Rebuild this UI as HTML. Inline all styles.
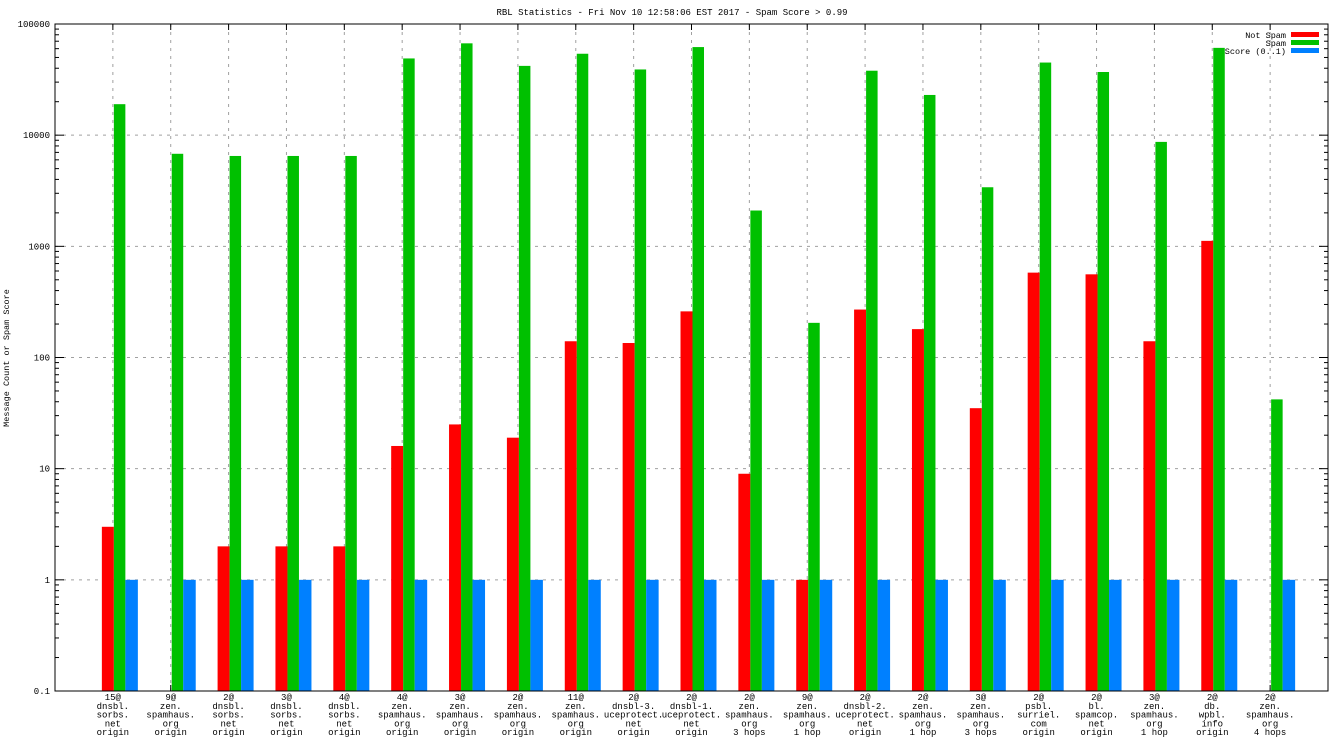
<!DOCTYPE html>
<html><head><meta charset="utf-8"><style>
html,body{margin:0;padding:0;background:#fff;}
svg{display:block;font-family:"Liberation Mono",monospace;}
</style></head><body>
<svg id="chart" width="1344" height="756" xmlns="http://www.w3.org/2000/svg"></svg>
<script>
const categories = [
 ["15@","dnsbl.","sorbs.","net","origin"],
 ["9@","zen.","spamhaus.","org","origin"],
 ["2@","dnsbl.","sorbs.","net","origin"],
 ["3@","dnsbl.","sorbs.","net","origin"],
 ["4@","dnsbl.","sorbs.","net","origin"],
 ["4@","zen.","spamhaus.","org","origin"],
 ["3@","zen.","spamhaus.","org","origin"],
 ["2@","zen.","spamhaus.","org","origin"],
 ["11@","zen.","spamhaus.","org","origin"],
 ["2@","dnsbl-3.","uceprotect.","net","origin"],
 ["2@","dnsbl-1.","uceprotect.","net","origin"],
 ["2@","zen.","spamhaus.","org","3 hops"],
 ["9@","zen.","spamhaus.","org","1 hop"],
 ["2@","dnsbl-2.","uceprotect.","net","origin"],
 ["2@","zen.","spamhaus.","org","1 hop"],
 ["3@","zen.","spamhaus.","org","3 hops"],
 ["2@","psbl.","surriel.","com","origin"],
 ["2@","bl.","spamcop.","net","origin"],
 ["3@","zen.","spamhaus.","org","1 hop"],
 ["2@","db.","wpbl.","info","origin"],
 ["2@","zen.","spamhaus.","org","4 hops"]
];
const notSpam = [3,0,2,2,2,16,25,19,140,135,260,9,1,270,180,35,580,560,140,1120,0];
const spam = [19000,6800,6500,6500,6500,49000,67000,42000,54000,39000,62000,2100,205,38000,23000,3400,45000,37000,8700,61000,42];
const score = [1,1,1,1,1,1,1,1,1,1,1,1,1,1,1,1,1,1,1,1,1];
const yTicks = [0.1,1,10,100,1000,10000,100000];
const yTickLabels = ["0.1","1","10","100","1000","10000","100000"];

const NS="http://www.w3.org/2000/svg";
const svg=document.getElementById('chart');
const L=55,R=1328,T=24,B=691;
const xScale=i=>L+(i+1)*(R-L)/22;
const yScale=v=>B-(Math.log10(v)+1)*(B-T)/6;
function mk(tag,attrs){const e=document.createElementNS(NS,tag);for(const k in attrs)e.setAttribute(k,attrs[k]);svg.appendChild(e);return e;}

yTicks.forEach((v,i)=>{
  const y=yScale(v);
  if(i>0&&i<yTicks.length-1){const g=mk('line',{x1:L,x2:R,y1:y,y2:y,stroke:'#a0a0a0','stroke-dasharray':'3,5','stroke-width':1});
  
  }
  const t=mk('text',{x:L-5,y:y+3,'text-anchor':'end','font-size':'9px',fill:'#000'});
  t.textContent=yTickLabels[i];
  
  
  [L,R].forEach((x,k)=>{mk('line',{x1:x,x2:x+(k?-9:9),y1:y,y2:y,stroke:'#000'});});
  if(i<yTicks.length-1){
    for(let m=2;m<10;m++){const ym=yScale(v*m);[L,R].forEach((x,k)=>{mk('line',{x1:x,x2:x+(k?-4:4),y1:ym,y2:ym,stroke:'#000'});});}
  }
});
categories.forEach((c,i)=>{
  const x=xScale(i);
  const g=mk('line',{x1:x,x2:x,y1:T,y2:B,stroke:'#a0a0a0','stroke-dasharray':'3,5'});
  
  
  mk('line',{x1:x,x2:x,y1:T,y2:T+6,stroke:'#000'});
  mk('line',{x1:x,x2:x,y1:B,y2:B-6,stroke:'#000'});
});
function bar(x0,x1,v,color,name){
  if(!(v>0))return;
  const y=yScale(v);
  const r=mk('rect',{x:x0,y:y,width:x1-x0,height:B-y,fill:color});
  
  
}
categories.forEach((c,i)=>{
  const x=xScale(i);
  bar(x-11,x+1,notSpam[i],'#ff0000','bar-not-spam');
  bar(x+1,x+12.5,spam[i],'#00c000','bar-spam');
  bar(x+12.5,x+25,score[i],'#0080ff','bar-score');
  c.forEach((line,j)=>{
    const t=mk('text',{x:x,y:B+9+j*8.8,'text-anchor':'middle','font-size':'9px',fill:'#000'});
    t.textContent=line;
    
    
  });
});
const bd=mk('rect',{x:L,y:T,width:R-L,height:B-T,fill:'none',stroke:'#000','stroke-width':1});


const ti=mk('text',{x:672,y:15,'text-anchor':'middle','font-size':'9px',fill:'#000'});
ti.textContent='RBL Statistics - Fri Nov 10 12:58:06 EST 2017 - Spam Score > 0.99';


const yt=mk('text',{x:0,y:0,'text-anchor':'middle','font-size':'8.5px',fill:'#000',transform:'translate(9,358) rotate(-90)'});
yt.textContent='Message Count or Spam Score';


const leg=[["Not Spam","#ff0000"],["Spam","#00c000"],["Score (0..1)","#0080ff"]];
leg.forEach((l,i)=>{
  const y=35+i*8;
  const t=mk('text',{x:1286,y:y+3,'text-anchor':'end','font-size':'8.5px',fill:'#000'});
  t.textContent=l[0];
  
  
  const r=mk('rect',{x:1291,y:y-3,width:28,height:5,fill:l[1]});
  
  
});
</script>
</body></html>
